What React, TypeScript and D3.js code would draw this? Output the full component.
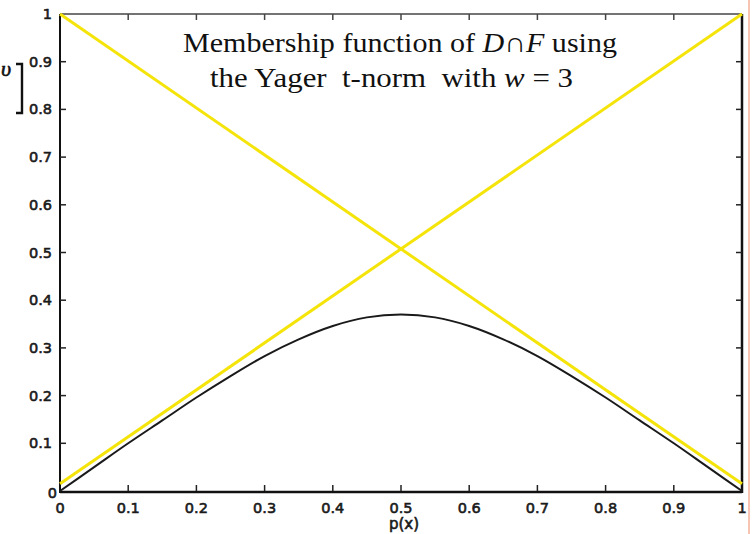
import React from "react";
import * as d3 from "d3";

// Membership grade of p(x) in D, in F, and in D∩F (Yager t-norm, w = 3)
const pValues = [0, 0.05, 0.1, 0.15, 0.2, 0.25, 0.3, 0.35, 0.4, 0.45, 0.5, 0.55, 0.6, 0.65, 0.7, 0.75, 0.8, 0.85, 0.9, 0.95, 1];
const intersection = [0, 0.05, 0.1, 0.148, 0.196, 0.241, 0.283, 0.318, 0.346, 0.364, 0.37, 0.364, 0.346, 0.318, 0.283, 0.241, 0.196, 0.148, 0.1, 0.05, 0];
const risingEnds = [[0, 0.015], [1, 1]];
const fallingEnds = [[0, 1], [1, 0.015]];
const xTicks = [0, 0.1, 0.2, 0.3, 0.4, 0.5, 0.6, 0.7, 0.8, 0.9, 1];
const yTicks = [0, 0.1, 0.2, 0.3, 0.4, 0.5, 0.6, 0.7, 0.8, 0.9, 1];
const titleLines = ["Membership function of ", "the Yager  t-norm  with "];

const W = 753;
const H = 534;

export default function App() {
  const x = d3.scaleLinear().domain([0, 1]).range([60, 742]);
  const y = d3.scaleLinear().domain([0, 1]).range([491, 14]);
  const line = d3.line<[number, number]>().x((d) => x(d[0])).y((d) => y(d[1]));
  const curve = d3
    .line<number>()
    .x((_, i) => x(pValues[i]))
    .y((d) => y(d))
    .curve(d3.curveMonotoneX);

  const tickFont = {
    fontFamily: "DejaVu Sans, sans-serif",
    fontSize: 14.5,
    fill: "#1a1a1a",
    stroke: "#1a1a1a",
    strokeWidth: 0.6,
  } as const;
  const serif = { fontFamily: "Liberation Serif, Times New Roman, serif", fontSize: 28, fill: "#111" } as const;
  const fmt = (t: number) => (t === 0 || t === 1 ? String(t) : t.toFixed(1));

  return (
    <svg width={W} height={H} style={{ position: "absolute", left: 0, top: 0, background: "#fff" }}>
      <rect x={0} y={0} width={W} height={H} fill="#fff" />
      {/* frame */}
      <line x1={x(0)} x2={x(1)} y1={y(1)} y2={y(1)} stroke="#444" strokeWidth={1.5} />
      <line x1={x(0)} x2={x(1)} y1={y(0) + 1} y2={y(0) + 1} stroke="#111" strokeWidth={2.5} />
      <line x1={x(0)} x2={x(0)} y1={y(1)} y2={y(0) + 2} stroke="#111" strokeWidth={2} />
      <line x1={x(1)} x2={x(1)} y1={y(1)} y2={y(0) + 2} stroke="#111" strokeWidth={2.5} />

      {/* ticks, pointing inward on all four sides */}
      {xTicks.slice(1, -1).map((t) => (
        <g key={"xt" + t}>
          <line x1={x(t)} x2={x(t)} y1={y(0)} y2={y(0) - 6} stroke="#222" strokeWidth={1.5} />
          <line x1={x(t)} x2={x(t)} y1={y(1)} y2={y(1) + 6} stroke="#444" strokeWidth={1.5} />
        </g>
      ))}
      {yTicks.slice(1, -1).map((t) => (
        <g key={"yt" + t}>
          <line x1={x(0)} x2={x(0) + 6} y1={y(t)} y2={y(t)} stroke="#222" strokeWidth={1.5} />
          <line x1={x(1)} x2={x(1) - 6} y1={y(t)} y2={y(t)} stroke="#222" strokeWidth={1.5} />
        </g>
      ))}

      {/* tick labels */}
      {xTicks.map((t) => (
        <text key={"xl" + t} x={x(t)} y={513} textAnchor="middle" {...tickFont}>
          {fmt(t)}
        </text>
      ))}
      {yTicks.map((t) => (
        <text key={"yl" + t} x={t === 0 ? 57 : 52} y={t === 0 ? y(t) + 7 : y(t) + 5} textAnchor="end" {...tickFont}>
          {fmt(t)}
        </text>
      ))}
      <text x={x(0.5) + 3} y={529} textAnchor="middle" {...tickFont} fontSize={15}>
        p(x)
      </text>

      {/* y-axis label */}
      <text x={1} y={76} fontFamily="Liberation Serif, serif" fontStyle="italic" fontSize={22} fill="#111" stroke="#111" strokeWidth={0.6}>
        υ
      </text>
      <path d="M16,64 H22 V113 H16" fill="none" stroke="#111" strokeWidth={2.4} />

      {/* series */}
      <path d={line(risingEnds as [number, number][]) ?? ""} stroke="#f5e40a" strokeWidth={3} fill="none" />
      <path d={line(fallingEnds as [number, number][]) ?? ""} stroke="#f5e40a" strokeWidth={3} fill="none" />
      <path d={curve(intersection) ?? ""} stroke="#1a1a1a" strokeWidth={2} fill="none" />

      {/* title */}
      <text x={183} y={52} {...serif} textLength={434} lengthAdjust="spacingAndGlyphs" style={{ whiteSpace: "pre" }}>
        {titleLines[0]}
        <tspan fontStyle="italic">D</tspan>∩<tspan fontStyle="italic">F</tspan> using
      </text>
      <text x={210} y={87} {...serif} textLength={363} lengthAdjust="spacingAndGlyphs" style={{ whiteSpace: "pre" }}>
        {titleLines[1]}
        <tspan fontStyle="italic">w</tspan> = 3
      </text>

      {/* scan edge */}
      <line x1={749} x2={749} y1={0} y2={H} stroke="#f7c4b4" strokeWidth={2} />
    </svg>
  );
}
